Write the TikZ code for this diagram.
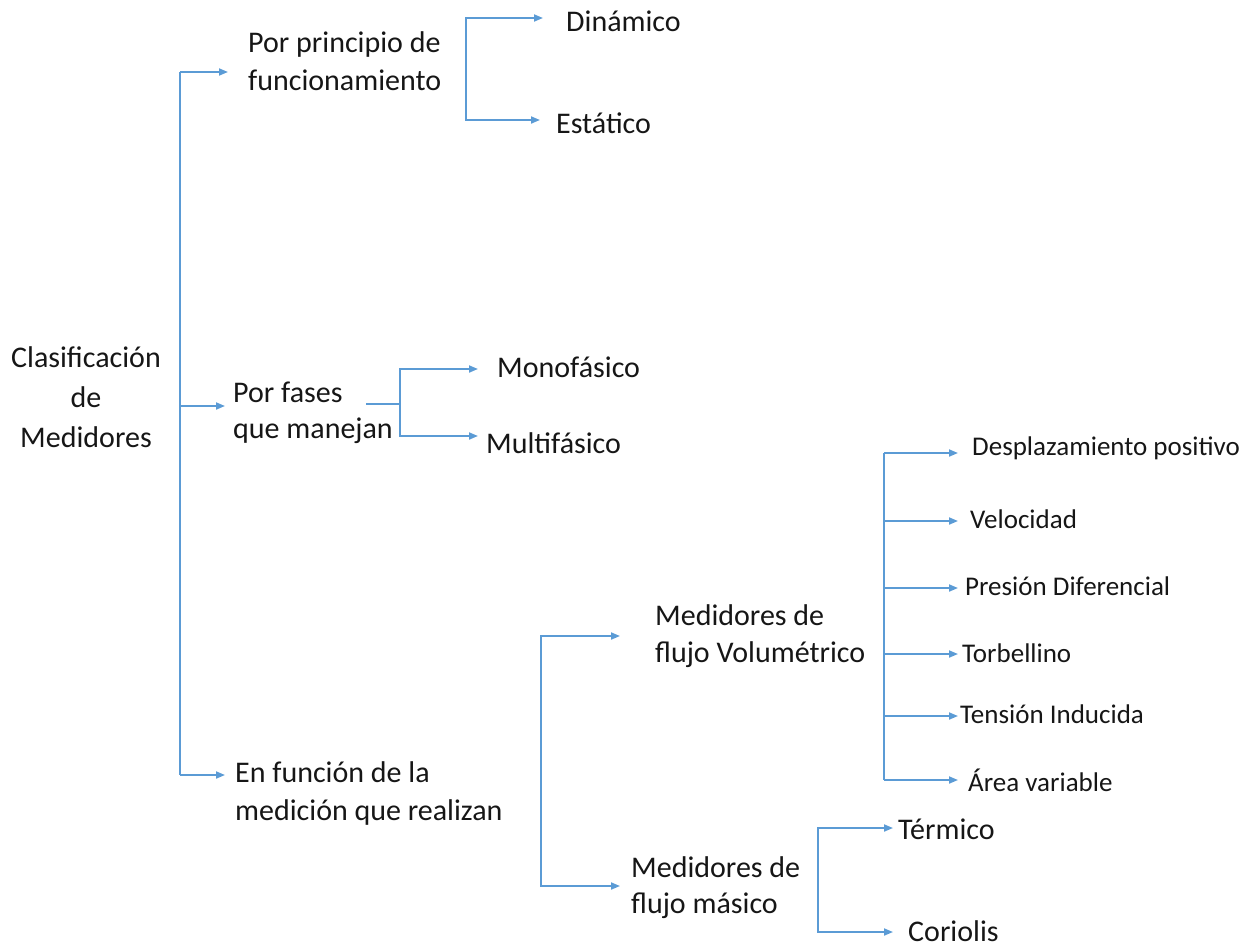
\documentclass[tikz,border=0pt]{standalone}
\usepackage{fontspec}
\setmainfont{Carlito}
\usetikzlibrary{arrows.meta}
\definecolor{lineblue}{RGB}{91,155,213}
\definecolor{txt}{RGB}{22,22,22}
\begin{document}
\begin{tikzpicture}[x=1pt,y=-1pt,
  big/.style={font=\fontsize{30}{37}\selectfont, inner sep=0pt, anchor=base west, text=txt, align=left},
  small/.style={font=\fontsize{27}{32}\selectfont, inner sep=0pt, anchor=base west, text=txt},
  conn/.style={draw=lineblue, line width=1.8pt},
  arr/.style={conn, -{Triangle[length=9pt,width=7pt]}}]
\useasboundingbox (0,0) rectangle (1248,946);

% texts (multi-line nodes: base = baseline of last line)
\node[big, align=center, anchor=base, font=\fontsize{30}{40}\selectfont] (root) at (86,447) {Clasificación\\de\\Medidores};
\node[big, font=\fontsize{30}{38}\selectfont] (ppf) at (248,90) {Por principio de\\funcionamiento};
\node[big] (din) at (566,31) {Dinámico};
\node[big] (est) at (556,133) {Estático};
\node[big, font=\fontsize{30}{36}\selectfont] (fas) at (233,438) {Por fases\\que manejan};
\node[big] (mono) at (497,377) {Monofásico};
\node[big] (multi) at (486,453) {Multifásico};
\node[big, font=\fontsize{30}{38}\selectfont] (fun) at (235,820) {En función de la\\medición que realizan};
\node[big] (vol) at (655,662) {Medidores de\\flujo Volumétrico};
\node[big, font=\fontsize{30}{36}\selectfont] (mas) at (631,913) {Medidores de\\flujo másico};
\node[small] (des) at (972,455) {Desplazamiento positivo};
\node[small] (vel) at (970,528) {Velocidad};
\node[small] (pre) at (965,595) {Presión Diferencial};
\node[small] (tor) at (962,662) {Torbellino};
\node[small] (ten) at (960,723) {Tensión Inducida};
\node[small] (are) at (968,791) {Área variable};
\node[big] (ter) at (898,839) {Térmico};
\node[big] (cor) at (908,941) {Coriolis};

% junction / tip coordinates
\coordinate (r1) at (180,72);  \coordinate (r2) at (180,406); \coordinate (r3) at (180,775);
\coordinate (t1) at (228,72);  \coordinate (t2) at (225,406); \coordinate (t3) at (225,775);
\coordinate (p1) at (466,18);  \coordinate (p2) at (466,120);
\coordinate (tp1) at (543,18); \coordinate (tp2) at (540,120);
\coordinate (f0) at (366,404); \coordinate (fm) at (400,404);
\coordinate (f1) at (400,369); \coordinate (f2) at (400,436);
\coordinate (tf1) at (478,369); \coordinate (tf2) at (478,436);
\coordinate (e1) at (541,636); \coordinate (e2) at (541,886);
\coordinate (te1) at (620,636); \coordinate (te2) at (620,886);
\coordinate (v1) at (884,453); \coordinate (v2) at (884,521); \coordinate (v3) at (884,588);
\coordinate (v4) at (884,654); \coordinate (v5) at (884,716); \coordinate (v6) at (884,780);
\coordinate (m1) at (818,828); \coordinate (m2) at (818,932);
\coordinate (tm1) at (893,828); \coordinate (tm2) at (893,932);

% connectors
\draw[conn] (r1) -- (r3);
\draw[arr] (r1) -- (t1);
\draw[arr] (r2) -- (t2);
\draw[arr] (r3) -- (t3);

\draw[arr] (p2) -- (p1) -- (tp1);
\draw[arr] (p1) |- (tp2);

\draw[conn] (f0) -- (fm);
\draw[arr] (f2) -- (f1) -- (tf1);
\draw[arr] (f1) |- (tf2);

\draw[arr] (e2) -- (e1) -- (te1);
\draw[arr] (e1) |- (te2);

\draw[conn] (v1) -- (v6);
\foreach \v in {v1,v2,v3,v4,v5,v6}
  \draw[arr] (\v) -- (\v -| 958,0);

\draw[arr] (m2) -- (m1) -- (tm1);
\draw[arr] (m1) |- (tm2);
\end{tikzpicture}
\end{document}
